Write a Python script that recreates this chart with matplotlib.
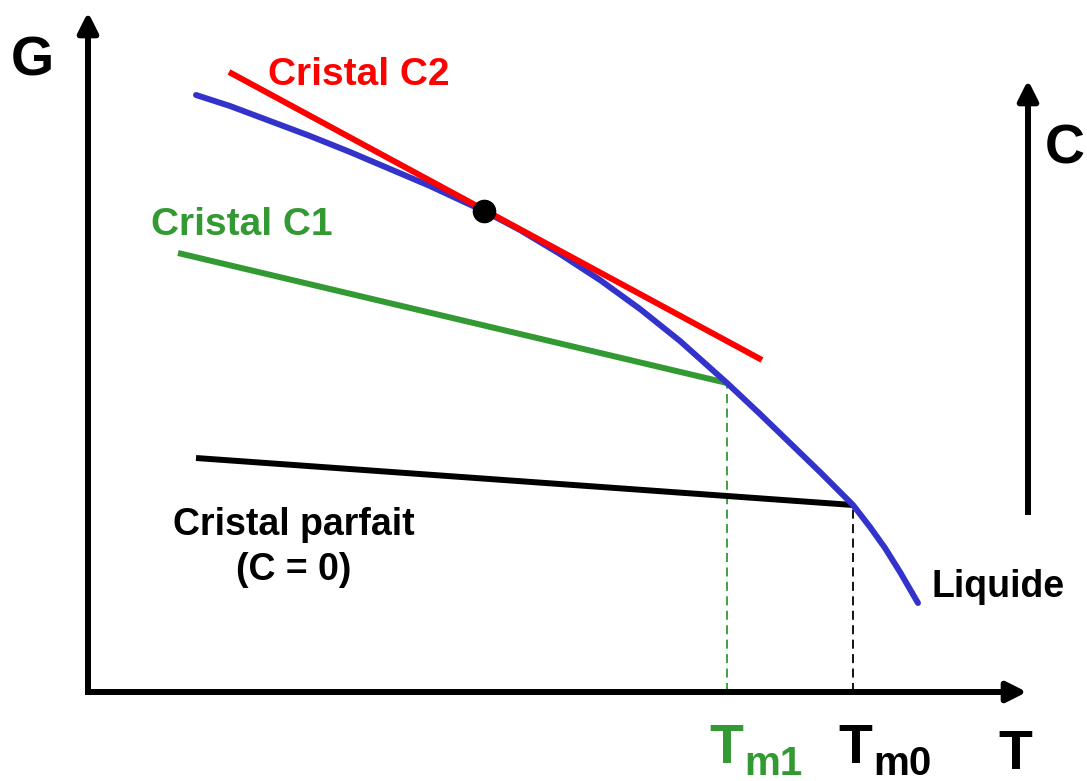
import matplotlib.pyplot as plt

plt.rcParams['font.family'] = ['Liberation Sans', 'DejaVu Sans']
plt.rcParams['font.weight'] = 'bold'

# liquid free energy curve G(T) (axis origin = 0,0)
T_liq = [108, 142, 182, 222, 262, 302, 342, 372, 396, 432, 472, 512,
         552, 592, 639, 672, 702, 732, 765, 782, 797, 812, 830]
G_liq = [597, 586, 571, 556, 540, 523, 506, 492, 481, 462, 438, 412,
         383, 351, 309, 278, 249, 220, 187, 165, 144, 120, 89]

# crystal lines: (T, G) end points
T_c2 = [141, 674]
G_c2 = [620, 332]
T_c1 = [90, 639]
G_c1 = [439, 309]
T_c0 = [108, 765]
G_c0 = [234, 187]

# tangency point of C2 with the liquid
T_dot = [396]
G_dot = [481]

# melting temperatures
Tm1 = 639
Tm0 = 765

blue = '#3333cc'
green = '#339933'
red = '#ff0000'

fig = plt.figure(figsize=(10.87, 7.81), dpi=100)
ax = fig.add_axes([0, 0, 1, 1])
ax.set_xlim(-88, 999)
ax.set_ylim(-89, 692)
ax.axis('off')

lw = 4.3
arrow = dict(arrowstyle='-|>', lw=4.3, color='black', mutation_scale=30,
             shrinkA=0, shrinkB=0, capstyle='butt')
# G and T axes
ax.annotate('', xy=(0, 680), xytext=(0, -3), arrowprops=arrow)
ax.annotate('', xy=(939, 0), xytext=(-3, 0), arrowprops=arrow)
# C arrow
ax.annotate('', xy=(940, 612), xytext=(940, 177), arrowprops=arrow)

# dashed guides to the melting temperatures
ax.plot([Tm1, Tm1], [0, G_c1[1]], color=green, lw=1.3, ls=(0, (5, 3)))
ax.plot([Tm0, Tm0], [0, G_c0[1]], color='black', lw=1.3, ls=(0, (5, 3)))

ax.plot(T_c1, G_c1, color=green, lw=lw, solid_capstyle='butt', zorder=3)
ax.plot(T_c0, G_c0, color='black', lw=lw, solid_capstyle='butt', zorder=3)
ax.plot(T_liq, G_liq, color=blue, lw=lw, solid_capstyle='round',
        solid_joinstyle='round', zorder=4)
ax.plot(T_c2, G_c2, color=red, lw=lw, solid_capstyle='butt', zorder=5)
ax.plot(T_dot, G_dot, 'o', color='black', ms=16, zorder=6)

# labels
ax.text(-56, 616, 'G', fontsize=40, ha='center', va='baseline')
ax.text(927, -77, 'T', fontsize=40, ha='center', va='baseline')
ax.text(977, 529, 'C', fontsize=40, ha='center', va='baseline')

ax.text(Tm1 - 1, -71, 'T', fontsize=40, ha='center', va='baseline', color=green)
ax.text(Tm1 + 17, -83, 'm1', fontsize=29, ha='left', va='baseline', color=green)
ax.text(Tm0 + 2, -71, 'T', fontsize=40, ha='center', va='baseline')
ax.text(Tm0 + 20, -83, 'm0', fontsize=29, ha='left', va='baseline')

ax.text(180, 607, 'Cristal C2', fontsize=28, color=red, ha='left', va='baseline')
ax.text(63, 457, 'Cristal C1', fontsize=28, color=green, ha='left', va='baseline')
ax.text(206, 157, 'Cristal parfait', fontsize=27, ha='center', va='baseline')
ax.text(206, 112, '(C = 0)', fontsize=27, ha='center', va='baseline')
ax.text(843, 95, 'Liquide', fontsize=27, ha='left', va='baseline')

fig.savefig('out.png', dpi=100)
